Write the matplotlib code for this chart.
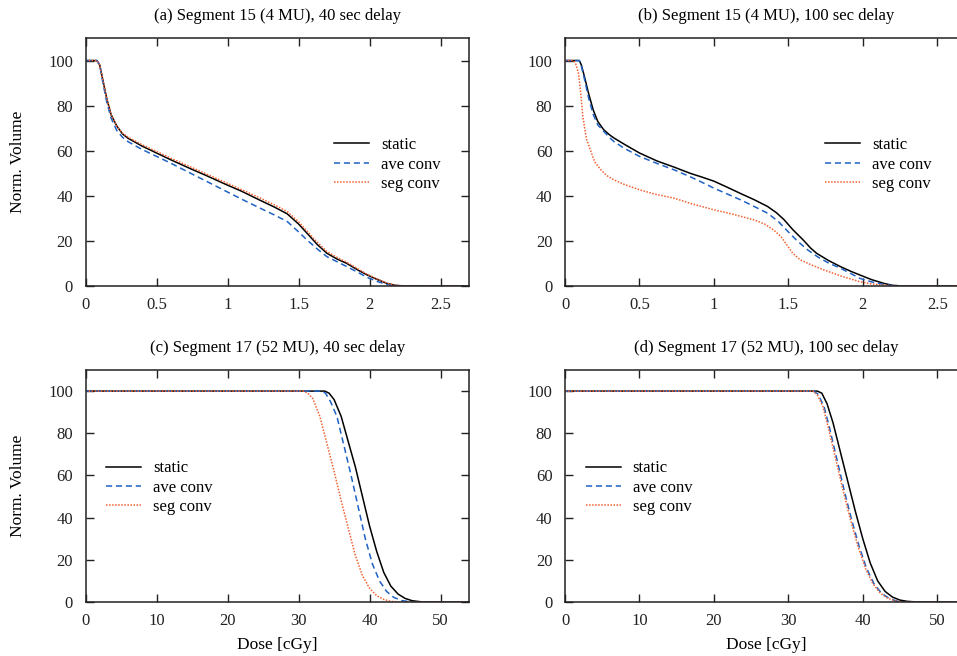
import numpy as np
import matplotlib.pyplot as plt
from matplotlib.ticker import FuncFormatter

plt.rcParams['font.family'] = ['Liberation Serif', 'DejaVu Serif']

# (a) Segment 15, 40 sec delay
a_x = [0, 0.08, 0.1, 0.12, 0.15, 0.18, 0.22, 0.26, 0.3, 0.4, 0.5, 0.6, 0.74, 0.85, 0.99, 1.1,
       1.23, 1.33, 1.42, 1.5, 1.56, 1.63, 1.7, 1.77, 1.84, 1.92, 1.98, 2.05, 2.12, 2.18, 2.25, 2.7]
a_static_y = [100, 100, 98, 92, 83, 76, 71, 67.5, 65.5, 62, 59, 56, 52, 49, 45, 42,
              38, 35, 32, 27.5, 23.4, 18.5, 14.5, 12, 10, 7, 5, 3, 1.2, 0.3, 0, 0]
a_ave_y = [100, 100, 98, 91, 81.5, 74.5, 69, 66, 64, 60.5, 57.5, 54.5, 50, 46.5, 42, 38.5,
           34.5, 31.5, 28.6, 24, 20.4, 16.5, 13, 10.8, 8.6, 6, 3.9, 2.1, 0.7, 0.1, 0, 0]
a_seg_y = [100, 100, 98, 92, 83, 76, 71, 67.8, 66, 62.6, 59.7, 56.7, 52.8, 49.7, 45.8, 42.7,
           39, 36, 33, 28.5, 24.3, 19.5, 15.3, 12.7, 10.5, 7.5, 5.3, 3.2, 1.3, 0.3, 0, 0]

# (b) Segment 15, 100 sec delay
b_static_x = [0, 0.096, 0.11, 0.13, 0.16, 0.19, 0.22, 0.26, 0.3, 0.33, 0.4, 0.5, 0.62, 0.73, 0.84,
              0.92, 1.0, 1.09, 1.18, 1.27, 1.36, 1.42, 1.47, 1.53, 1.6, 1.65, 1.69, 1.77, 1.85,
              1.92, 1.98, 2.06, 2.14, 2.2, 2.27, 2.7]
b_static_y = [100, 100, 98, 93, 85, 78, 73, 69.3, 67, 65.6, 62.8, 59, 55.4, 52.8, 50,
              48.3, 46.5, 43.8, 41, 38.3, 35.3, 32.5, 29.5, 25, 20.4, 16.8, 14.5, 11.3, 8.6,
              6.5, 4.9, 2.8, 1.2, 0.3, 0, 0]
b_ave_x = [0, 0.096, 0.11, 0.13, 0.16, 0.19, 0.22, 0.26, 0.3, 0.33, 0.4, 0.5, 0.62, 0.73, 0.84,
           0.92, 1.0, 1.09, 1.18, 1.27, 1.36, 1.43, 1.5, 1.56, 1.63, 1.7, 1.77, 1.85, 1.92,
           1.98, 2.06, 2.14, 2.22, 2.7]
b_ave_y = [100, 100, 97.5, 92, 83, 76, 71.5, 68.6, 65.8, 64, 61, 57.5, 54.3, 51.6, 48.5,
           46, 43.4, 40.8, 38.2, 35.3, 32.3, 28.8, 24, 20, 16, 12.8, 10.2, 7.9, 5.5,
           3.4, 1.8, 0.7, 0, 0]
b_seg_x = [0, 0.056, 0.07, 0.09, 0.105, 0.12, 0.145, 0.17, 0.2, 0.24, 0.28, 0.33, 0.4, 0.5, 0.6,
           0.73, 0.85, 1.0, 1.13, 1.27, 1.34, 1.4, 1.45, 1.49, 1.53, 1.58, 1.65, 1.74, 1.85,
           1.98, 2.06, 2.14, 2.2, 2.7]
b_seg_y = [100, 100, 99, 94.5, 86, 75, 65, 60.4, 55, 51.6, 49, 47, 45, 42.7, 40.8,
           39, 36.5, 33.8, 31.8, 29.3, 27.5, 24.9, 22, 18.2, 14.5, 11.6, 9.5, 7.1, 4.5,
           1.9, 0.9, 0.4, 0, 0]

# (c) Segment 17, 40 sec delay
c_static_x = [0, 33.7, 34.3, 35, 36, 37, 38, 39, 40, 41, 42, 43, 44, 45, 46, 47.5, 54]
c_static_y = [100, 100, 99, 96, 88, 76, 64, 50, 36, 24, 14, 7.5, 3.8, 1.7, 0.6, 0, 0]
c_ave_x = [0, 33.2, 33.8, 34.5, 35.4, 36.4, 37.4, 38.4, 39.4, 40.4, 41.4, 42.4, 43.4, 44.5, 46, 54]
c_ave_y = [100, 100, 99, 95, 88, 74, 60, 45, 30, 18, 10, 5, 2.2, 0.7, 0, 0]
c_seg_x = [0, 30.7, 31.3, 32, 33, 34, 35, 36, 37, 38, 39, 40, 41, 42, 43, 44.3, 54]
c_seg_y = [100, 100, 99, 96.5, 88, 75, 62, 48, 35, 22, 12.5, 6.5, 3, 1.2, 0.3, 0, 0]

# (d) Segment 17, 100 sec delay
d_static_x = [0, 33.9, 34.5, 35.2, 36, 37, 38, 39, 40, 41, 42, 43, 44, 45, 46, 47.3, 54]
d_static_y = [100, 100, 99, 94, 85, 71, 57, 43, 30, 18.5, 10, 5, 2.3, 0.9, 0.3, 0, 0]
d_ave_x = [0, 33.4, 34, 34.8, 35.5, 36.5, 37.5, 38.5, 39.5, 40.5, 41.5, 42.5, 43.5, 44.5, 45.5, 54]
d_ave_y = [100, 100, 98.5, 92.6, 83, 68, 53, 39, 26.5, 16, 8.7, 4.2, 1.8, 0.5, 0, 0]
d_seg_x = [0, 33.25, 33.85, 34.65, 35.35, 36.35, 37.35, 38.35, 39.35, 40.35, 41.35, 42.35, 43.35,
           44.35, 45.35, 54]
d_seg_y = [100, 100, 98.5, 92.6, 83, 68, 53, 39, 26.5, 16, 8.7, 4.2, 1.8, 0.5, 0, 0]

titles = ["(a) Segment 15 (4 MU), 40 sec delay",
          "(b) Segment 15 (4 MU), 100 sec delay",
          "(c) Segment 17 (52 MU), 40 sec delay",
          "(d) Segment 17 (52 MU), 100 sec delay"]

BLUE = "#1f62c4"
ORANGE = "#f26130"

W, H = 957, 656
fig = plt.figure(figsize=(W / 100, H / 100), dpi=100)

def box(l, t, w, h):
    return [l / W, 1 - (t + h) / H, w / W, h / H]

ax_a = fig.add_axes(box(85.5, 38, 383.5, 248))
ax_b = fig.add_axes(box(565, 38, 402, 248))
ax_c = fig.add_axes(box(85.5, 370, 383.5, 232))
ax_d = fig.add_axes(box(565, 370, 402, 232))

data = [
    (ax_a, a_x, a_static_y, a_x, a_ave_y, a_x, a_seg_y),
    (ax_b, b_static_x, b_static_y, b_ave_x, b_ave_y, b_seg_x, b_seg_y),
    (ax_c, c_static_x, c_static_y, c_ave_x, c_ave_y, c_seg_x, c_seg_y),
    (ax_d, d_static_x, d_static_y, d_ave_x, d_ave_y, d_seg_x, d_seg_y),
]

fmt = FuncFormatter(lambda v, p: "%g" % v)

for i, (ax, sx, sy, vx, vy, gx, gy) in enumerate(data):
    ax.plot(sx, sy, color="black", lw=1.1, label="static")
    ax.plot(vx, vy, color=BLUE, lw=1.1, ls=(0, (4, 2.5)), label="ave conv")
    ax.plot(gx, gy, color=ORANGE, lw=1.1, ls=(0, (1, 1)), label="seg conv")
    ax.set_ylim(0, 110)
    ax.set_yticks([0, 20, 40, 60, 80, 100])
    if i < 2:
        ax.set_xlim(0, 2.7)
        ax.set_xticks([0, 0.5, 1, 1.5, 2, 2.5])
    else:
        ax.set_xlim(0, 54)
        ax.set_xticks([0, 10, 20, 30, 40, 50])
        ax.set_xlabel("Dose [cGy]", fontsize=12.5, labelpad=6)
    ax.xaxis.set_major_formatter(fmt)
    ax.tick_params(direction="in", length=6, width=1, top=True, right=True,
                   labelsize=12, colors="#222222")
    ax.tick_params(axis="x", pad=8)
    ax.tick_params(axis="y", pad=9)
    for s in ax.spines.values():
        s.set_linewidth(1.1)
        s.set_color("#222222")
    ax.set_title(titles[i], fontsize=12, pad=13)
    if i % 2 == 0:
        ax.set_ylabel("Norm. Volume", fontsize=12.5, labelpad=16)

leg_kw = dict(loc="upper left", frameon=False, fontsize=12, handlelength=2.1,
              handletextpad=0.7, labelspacing=0.2)
ax_a.legend(bbox_to_anchor=(0.61, 0.66), **leg_kw)
ax_b.legend(bbox_to_anchor=(0.61, 0.66), **leg_kw)
ax_c.legend(bbox_to_anchor=(0.015, 0.675), **leg_kw)
ax_d.legend(bbox_to_anchor=(0.015, 0.675), **leg_kw)

fig.savefig("out.png", dpi=100)
